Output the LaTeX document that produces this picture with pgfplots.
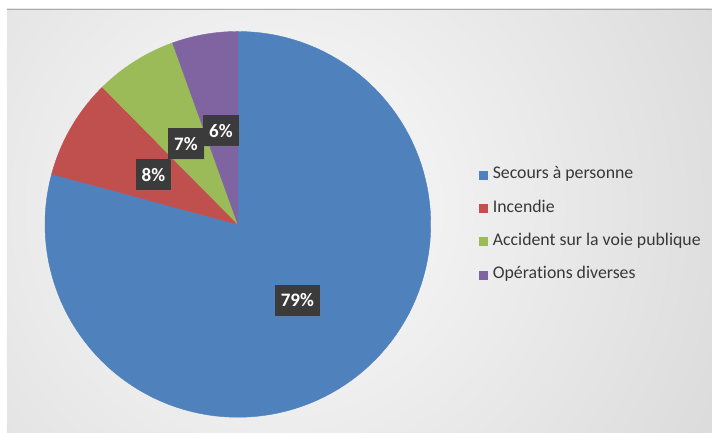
\documentclass[border=0pt]{standalone}
\usepackage{fontspec}
\setmainfont{Carlito}[Ligatures={NoCommon}]
\usepackage{pgfplots}
\pgfplotsset{compat=1.18}
\usetikzlibrary{shadows}

\definecolor{pieblue}{HTML}{4F81BD}
\definecolor{piered}{HTML}{C0504D}
\definecolor{piegreen}{HTML}{9BBB59}
\definecolor{piepurple}{HTML}{8064A2}
\definecolor{lblbox}{HTML}{3B3B3B}

\tikzset{lbl/.style={fill=lblbox, text=white, font=\bfseries\fontsize{19bp}{21bp}\selectfont,
    inner xsep=6bp, minimum height=31bp,
    drop shadow={opacity=0.25, shadow xshift=1bp, shadow yshift=-1bp}}}

% #1 cumulated share before the slice (%), #2 share (%), #3 colour, #4 name
\newcommand\pieslice[4]{%
  \addplot[fill=#3, draw=#3, line width=0.4bp,
    domain=90-3.6*(#1+#2):90-3.6*#1, samples=120, variable=\t,
    legend image code/.code={\fill[#3] (0bp,-4bp) rectangle (8bp,4bp);}]
    ({238+193*cos(\t)}, {208.5+193*sin(\t)}) -- (axis cs:238,208.5) -- cycle;
  \addlegendentry{#4}
}

\begin{document}
\begin{tikzpicture}
\begin{axis}[
  width=712bp, height=433bp, scale only axis,
  xmin=0, xmax=712, ymin=0, ymax=433,
  hide axis, clip=false,
  legend cell align=left,
  legend style={draw=none, fill=none, at={(axis cs:479,208)}, anchor=west,
    inner sep=0pt, row sep=17.3bp, font=\fontsize{17.8bp}{20bp}\selectfont,
    text=black!78,
    nodes={inner sep=0pt, text height=12bp, text depth=4bp},
    /tikz/every odd column/.append style={column sep=5.5bp}},
]
% background frame
\fill[white] (axis cs:0,0) rectangle (axis cs:712,433);
\begin{scope}
  \clip (axis cs:7,0) rectangle (axis cs:712,424);
  \shade[inner color=white!97!gray, outer color=gray!42]
    (axis cs:280,225) circle[radius=760];
\end{scope}
\draw[gray!65, line width=0.8bp] (axis cs:7,424) -- (axis cs:712,424);

\pieslice{0}{79.2}{pieblue}{Secours à personne}
\pieslice{79.2}{8.4}{piered}{Incendie}
\pieslice{87.6}{6.9}{piegreen}{Accident sur la voie publique}
\pieslice{94.5}{5.5}{piepurple}{Opérations diverses}

\node[lbl] at (axis cs:297.5,132.5) {79\%};
\node[lbl] at (axis cs:153.5,258) {8\%};
\node[lbl] at (axis cs:186,289) {7\%};
\node[lbl] at (axis cs:221,302) {6\%};
\end{axis}
\end{tikzpicture}
\end{document}
